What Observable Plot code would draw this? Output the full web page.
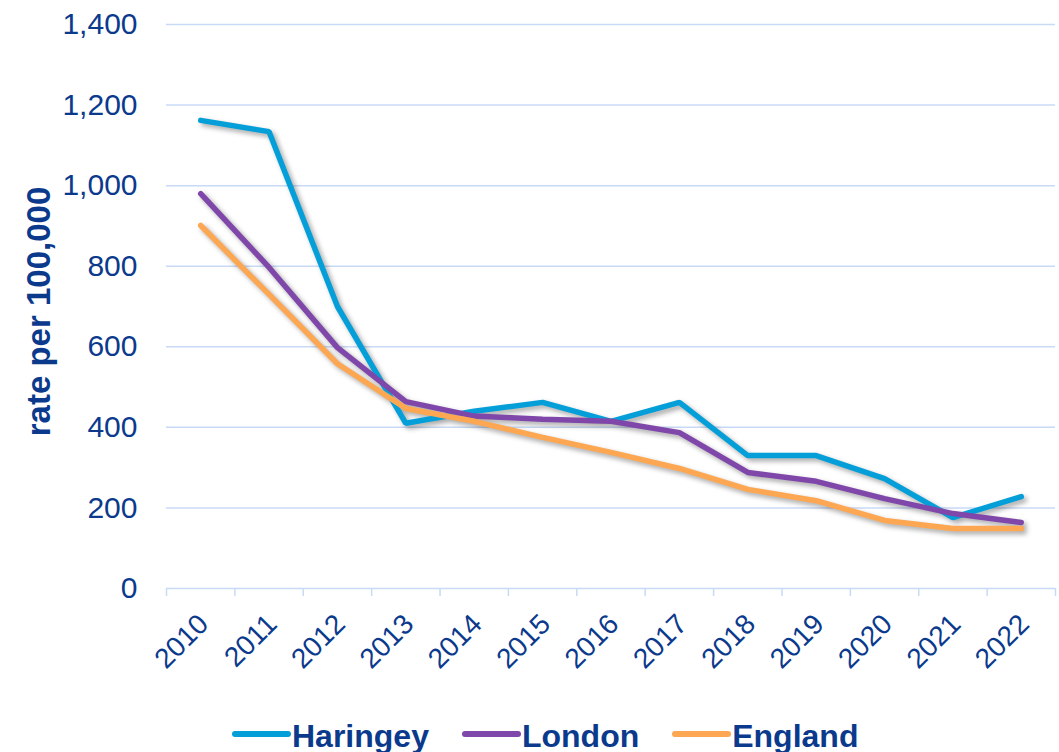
<!DOCTYPE html>
<html>
<head>
<meta charset="utf-8">
<script src="https://cdn.jsdelivr.net/npm/d3@7"></script>
<script src="https://cdn.jsdelivr.net/npm/@observablehq/plot@0.6"></script>
<style>
  html, body { margin: 0; padding: 0; background: #fff; overflow: hidden; }
  #wrap { position: relative; width: 1059px; height: 752px; font-family: "Liberation Sans", Arial, sans-serif; }
  #legend { position: absolute; left: 232px; top: 720px; display: flex; align-items: center; gap: 33px;
            font: bold 32px/32px "Liberation Sans", Arial, sans-serif; color: #0B3A8D; white-space: nowrap; }
  .item { display: flex; align-items: center; }
  .sw { width: 59px; height: 6px; border-radius: 3px; margin-right: 1px; position: relative; top: -2px; }
</style>
</head>
<body>
<div id="wrap"><div id="chart"></div><div id="legend"></div></div>
<script>
const years = [2010, 2011, 2012, 2013, 2014, 2015, 2016, 2017, 2018, 2019, 2020, 2021, 2022];
const haringey = [1162, 1134, 700, 410, 440, 462, 415, 462, 330, 330, 273, 176, 228];
const london   = [980, 797, 598, 464, 428, 420, 415, 387, 288, 266, 223, 186, 164];
const england  = [901, 730, 558, 447, 415, 375, 338, 298, 246, 218, 169, 149, 149];
const seriesNames = ["Haringey", "London", "England"];
const seriesColors = ["#049FD9", "#8047AA", "#FDA752"];
const yTicks = [0, 200, 400, 600, 800, 1000, 1200, 1400];
const yLabel = "rate per 100,000";

const rows = [];
[haringey, london, england].forEach((vals, i) => {
  years.forEach((yr, j) => rows.push({series: seriesNames[i], year: yr, value: vals[j]}));
});
const edges = years.map(y => y - 0.5).concat([years[years.length - 1] + 0.5]);

const textColor = "#0B3A8D";
const gridColor = "#C8DAF6";

const chart = Plot.plot({
  width: 1059,
  height: 712,
  marginLeft: 166,
  marginRight: 4,
  marginTop: 24,
  marginBottom: 124,
  style: { fontFamily: "'Liberation Sans', Arial, sans-serif", background: "#fff" },
  x: { type: "linear", domain: [edges[0], edges[edges.length - 1]], axis: null, label: null },
  y: { domain: [0, 1400], axis: null, label: null },
  color: { domain: seriesNames, range: seriesColors },
  marks: [
    Plot.gridY(yTicks.filter(d => d > 0), { stroke: gridColor, strokeOpacity: 1, strokeWidth: 1.5 }),
    Plot.ruleY([0], { stroke: gridColor, strokeWidth: 1.5 }),
    Plot.axisX({ ticks: edges, tickSize: 8, tickFormat: () => "", label: null, stroke: gridColor, strokeWidth: 1.5, strokeOpacity: 1 }),
    Plot.axisY({ ticks: yTicks, tickSize: 0, tickPadding: 29, label: null, tickFormat: d3.format(","), fontSize: 30, fill: textColor }),
    Plot.text(years, { x: d => d, y: () => 0, text: d => String(d), rotate: -45, textAnchor: "end", lineAnchor: "middle",
      dx: 3, dy: 31, fontSize: 28, fill: textColor }),
    Plot.text([yLabel], { frameAnchor: "left", text: d => d, rotate: -90, textAnchor: "middle", dx: -127, dy: 5, fontSize: 33, fontWeight: "bold", fill: textColor }),
    Plot.line(rows, { x: "year", y: "value", z: "series", stroke: "series", strokeWidth: 5.5, strokeLinecap: "round", strokeLinejoin: "miter",
      imageFilter: "drop-shadow(3px 3px 2.5px rgba(0,0,0,0.35))" })
  ]
});
document.getElementById("chart").appendChild(chart);

const legend = document.getElementById("legend");
seriesNames.forEach((name, i) => {
  const item = document.createElement("div");
  item.className = "item";
  const sw = document.createElement("span");
  sw.className = "sw";
  sw.style.background = seriesColors[i];
  const label = document.createElement("span");
  label.textContent = name;
  item.appendChild(sw);
  item.appendChild(label);
  legend.appendChild(item);
});
</script>
</body>
</html>
